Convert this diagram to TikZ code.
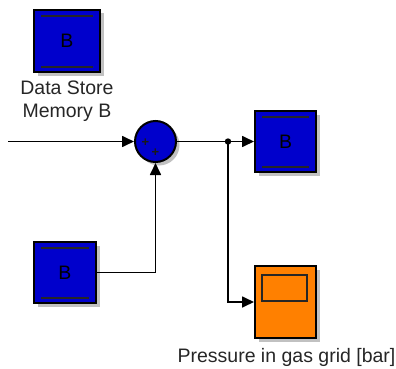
\documentclass[tikz,border=0pt]{standalone}
\usepackage{fontspec}
\setmainfont{Liberation Sans}
\usetikzlibrary{arrows.meta,shadows,calc}
\definecolor{blkblue}{RGB}{0,0,204}
\definecolor{scopeorange}{RGB}{255,128,0}
\tikzset{
  blk/.style={draw=black, line width=2pt, fill=blkblue, inner sep=0pt,
    drop shadow={shadow xshift=3.5pt, shadow yshift=-3.5pt, opacity=0.35, fill=black!70}},
  lbl/.style={font=\fontsize{19.5}{23}\selectfont, text=black!85, inner sep=0pt, align=center},
  wire/.style={line width=1.7pt},
  arr/.style={wire, -{Triangle[length=12pt,width=11pt]}},
  innerline/.style={line width=2.2pt, black!85},
  plus/.style={font=\fontsize{13}{13}\selectfont\bfseries, inner sep=0pt, text=black!90},
}
\begin{document}
\begin{tikzpicture}[x=1pt,y=-1pt]
\useasboundingbox (0,0) rectangle (396,369);
% blocks
\node[blk, minimum width=66pt, minimum height=62pt] (b1) at (67,41) {};
\node[blk, minimum width=62pt, minimum height=61pt] (b2) at (65,272.5) {};
\node[blk, minimum width=61pt, minimum height=61pt] (b3) at (285.5,141.5) {};
\node[blk, circle, minimum size=41pt] (sum) at (155.5,141.5) {};
\node[blk, fill=scopeorange, minimum width=61pt, minimum height=72pt] (sc) at (285.5,302) {};
% inner lines of data store blocks
\foreach \b in {b1,b2,b3}{
  \draw[innerline] ($(\b.north west)+(8,7)$) -- ($(\b.north east)+(-8,7)$);
  \draw[innerline] ($(\b.south west)+(8,-6)$) -- ($(\b.south east)+(-8,-6)$);
  \node[lbl, text=black] at (\b.center) {B};
}
% scope screen
\draw[line width=2pt, black!85] ($(sc.north west)+(8,10)$) rectangle ($(sc.north west)+(53,36)$);
% sum signs
\node[plus] at ($(sum.center)+(-10,1.5)$) {+};
\node[plus] at ($(sum.center)+(0,11)$) {+};
% labels
\node[lbl] (l1) at (67,101.5) {Data Store\\Memory B};
\node[lbl] (l2) at (286.5,357) {Pressure in gas grid [bar]};
% wires
\coordinate (in) at (8,141.5);
\coordinate (j) at (228,141.5);
\draw[arr] (in) -- (sum.west);
\draw[arr] (sum.east) -- (b3.west);
\draw[arr] (j) |- (sc.west);
\draw[arr] (b2.east) -| (sum.south);
\fill (j) circle (3.2pt);
\end{tikzpicture}
\end{document}
